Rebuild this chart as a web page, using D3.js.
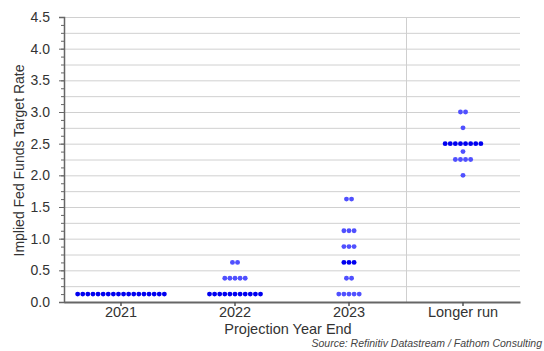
<!DOCTYPE html>
<html><head><meta charset="utf-8">
<script src="https://cdn.jsdelivr.net/npm/d3@7"></script>
<style>body{margin:0;background:#fff}svg{display:block}text{font-family:"Liberation Sans",Arial,sans-serif}</style>
</head><body><svg id="c" width="544" height="351"></svg>
<script>
const categories = ["2021", "2022", "2023", "Longer run"];
// dots: rate level and number of participants at that level, per category
const rates2021 = [0.125];
const counts2021 = [18];
const rates2022 = [0.125, 0.375, 0.625];
const counts2022 = [11, 5, 2];
const rates2023 = [0.125, 0.375, 0.625, 0.875, 1.125, 1.625];
const counts2023 = [5, 2, 3, 3, 3, 2];
const ratesLonger = [2.0, 2.25, 2.375, 2.5, 2.75, 3.0];
const countsLonger = [1, 4, 1, 8, 1, 2];
const medians = [0.125, 0.125, 0.625, 2.5];
const yTicks = [0, 0.5, 1, 1.5, 2, 2.5, 3, 3.5, 4, 4.5];

const svg = d3.select("#c");
const m = {l: 64, r: 24, t: 17, b: 49};
const W = 544, H = 351;
const x = d3.scaleBand().domain(categories).range([m.l, W - m.r]);
const y = d3.scaleLinear().domain([0, 4.5]).range([H - m.b, m.t]);

// gridlines every 0.25
const grid = d3.range(0.25, 4.5001, 0.25);
svg.append("g").selectAll("line").data(grid).join("line")
  .attr("x1", m.l).attr("x2", W - m.r)
  .attr("y1", d => y(d) + 0.5).attr("y2", d => y(d) + 0.5)
  .attr("stroke", "#d0d0d0").attr("stroke-width", 1);

// vertical separator before "Longer run"
svg.append("line")
  .attr("x1", x("Longer run") + 0.5).attr("x2", x("Longer run") + 0.5)
  .attr("y1", y(4.5)).attr("y2", y(0))
  .attr("stroke", "#cfcfcf").attr("stroke-width", 1);

// dots
const groups = [
  [categories[0], rates2021, counts2021],
  [categories[1], rates2022, counts2022],
  [categories[2], rates2023, counts2023],
  [categories[3], ratesLonger, countsLonger]
];
const dots = [];
groups.forEach(([cat, rates, counts], gi) => {
  rates.forEach((r, i) => {
    const n = counts[i];
    for (let k = 0; k < n; k++) {
      dots.push({cat, r, off: k - (n - 1) / 2, med: r === medians[gi]});
    }
  });
});
const sp = 5.1;
svg.append("g").selectAll("circle").data(dots).join("circle")
  .attr("cx", d => x(d.cat) + x.bandwidth() / 2 + d.off * sp)
  .attr("cy", d => y(d.r))
  .attr("r", 2.45)
  .attr("fill", d => d.med ? "#0000f0" : "#5050ff");

// y axis
const yAxisMinor = d3.axisLeft(y).tickValues(d3.range(0, 4.5001, 0.125)).tickSize(3).tickFormat("");
svg.append("g").attr("transform", `translate(${m.l},0)`).call(yAxisMinor)
  .call(g => g.select(".domain").remove())
  .call(g => g.selectAll("line").attr("stroke", "#666"));
const yAxis = d3.axisLeft(y).tickValues(yTicks).tickSize(5).tickPadding(9).tickFormat(d3.format(".1f"));
svg.append("g").attr("transform", `translate(${m.l},0)`).call(yAxis)
  .call(g => g.select(".domain").attr("stroke", "#666").attr("stroke-width", 1.5))
  .call(g => g.selectAll("line").attr("stroke", "#666"))
  .call(g => g.selectAll("text").attr("font-size", 14).attr("fill", "#333")
    .attr("font-family", "Liberation Sans, Arial, sans-serif"));

// x axis
const xAxis = d3.axisBottom(x).tickSize(4).tickSizeOuter(0).tickPadding(1.2);
svg.append("g").attr("transform", `translate(0,${y(0)})`).call(xAxis)
  .call(g => g.select(".domain").attr("stroke", "#666").attr("stroke-width", 2))
  .call(g => g.selectAll("line").attr("stroke", "#555").attr("stroke-width", 1.5))
  .call(g => g.selectAll("text").attr("font-size", 14.5).attr("fill", "#333")
    .attr("font-family", "Liberation Sans, Arial, sans-serif"));

// titles
svg.append("text").attr("x", (m.l + W - m.r) / 2 - 4).attr("y", 334.3)
  .attr("text-anchor", "middle").attr("font-size", 14.5).attr("fill", "#333")
  .text("Projection Year End");
svg.append("text").attr("transform", `translate(24,${(y(0) + y(4.5)) / 2 + 1}) rotate(-90)`)
  .attr("text-anchor", "middle").attr("font-size", 14).attr("fill", "#333")
  .text("Implied Fed Funds Target Rate");
svg.append("text").attr("x", 542).attr("y", 347)
  .attr("text-anchor", "end").attr("font-size", 10.5).attr("font-style", "italic").attr("fill", "#444")
  .text("Source: Refinitiv Datastream / Fathom Consulting");
</script></body></html>
